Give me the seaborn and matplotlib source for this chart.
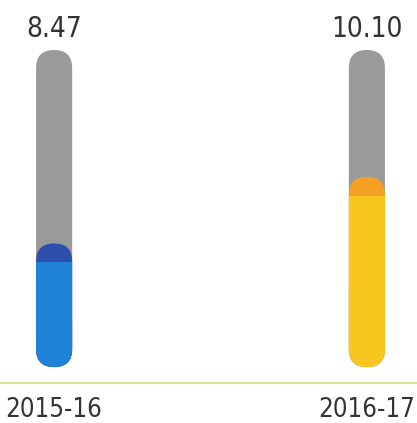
import matplotlib
matplotlib.use("Agg")
import matplotlib.pyplot as plt
import seaborn as sns
import pandas as pd
from matplotlib.patches import FancyBboxPatch, Rectangle

years = ["2015-16", "2016-17"]
values = [8.47, 10.10]
fill_pct = [39, 60]
full_pct = [100, 100]
fill_colors = ["#1f82d6", "#f8c61e"]
cap_colors = ["#2c4fae", "#f5a024"]

sns.set_style("white")
plt.rcParams['font.family'] = ['DejaVu Sans']
plt.rcParams['font.stretch'] = 'condensed'

df = pd.DataFrame({"year": years, "value": values, "fill": fill_pct, "full": full_pct})

fig = plt.figure(figsize=(4.17, 4.23), dpi=100)
ax = fig.add_axes([0, 40 / 423, 1, 335 / 423])

bw = 36 / 312
sns.barplot(x="year", y="full", data=df, color="#9a9a9a", width=bw, ax=ax, saturation=1)
sns.barplot(x="year", y="fill", data=df, palette=fill_colors, hue="year", legend=False,
            width=bw, ax=ax, saturation=1)

ax.set_xlim(-54 / 312, 1 + 50 / 312)
ax.set_ylim(-16 / 3.19, 100 + 2 / 3.19)

# turn the square bars into capsules
fig.canvas.draw()
px_x = ax.transData.transform((1, 0))[0] - ax.transData.transform((0, 0))[0]
px_y = ax.transData.transform((0, 1))[1] - ax.transData.transform((0, 0))[1]
aspect = px_x / px_y


def capsule(x0, y0, w, h, color, z):
    rp = FancyBboxPatch((x0, y0), w, h,
                        boxstyle="round,pad=0,rounding_size=%f" % (w / 2),
                        mutation_aspect=aspect,
                        facecolor=color, edgecolor="none", zorder=z)
    ax.add_patch(rp)


bars = list(ax.patches)
for k, p in enumerate(bars):
    x0, y0 = p.get_x(), p.get_y()
    w, h = p.get_width(), p.get_height()
    fc = p.get_facecolor()
    z = p.get_zorder()
    p.remove()
    if k < 2:
        capsule(x0, y0, w, h, fc, z)
    else:
        # darker rounded rim at the top of the fill, flat body below it
        capsule(x0, y0, w, h, cap_colors[k - 2], z)
        capsule(x0, y0, w, h / 2, fc, z + 0.1)
        ax.add_patch(Rectangle((x0, y0 + h / 4), w, h * 3 / 4 - 6, facecolor=fc,
                               edgecolor="none", zorder=z + 0.1))

for i, v in enumerate(values):
    ax.text(i, 100 + 4, "%.2f" % v, ha="center", va="baseline", fontsize=20, color="#333333",
            clip_on=False)

for s in ["top", "right", "left"]:
    ax.spines[s].set_visible(False)
ax.spines["bottom"].set_color("#dde38c")
ax.spines["bottom"].set_linewidth(1.5)

ax.set_xlabel("")
ax.set_ylabel("")
ax.set_yticks([])
ax.set_xticks([0, 1])
ax.set_xticklabels(years, fontsize=18.5, color="#333333")
ax.tick_params(axis="x", length=0, pad=10)
ax.set_xticks([0.5], minor=True)
ax.tick_params(axis="x", which="minor", length=9, color="#d9c8dc", width=1, direction="out")

fig.savefig("out.png", dpi=100)
